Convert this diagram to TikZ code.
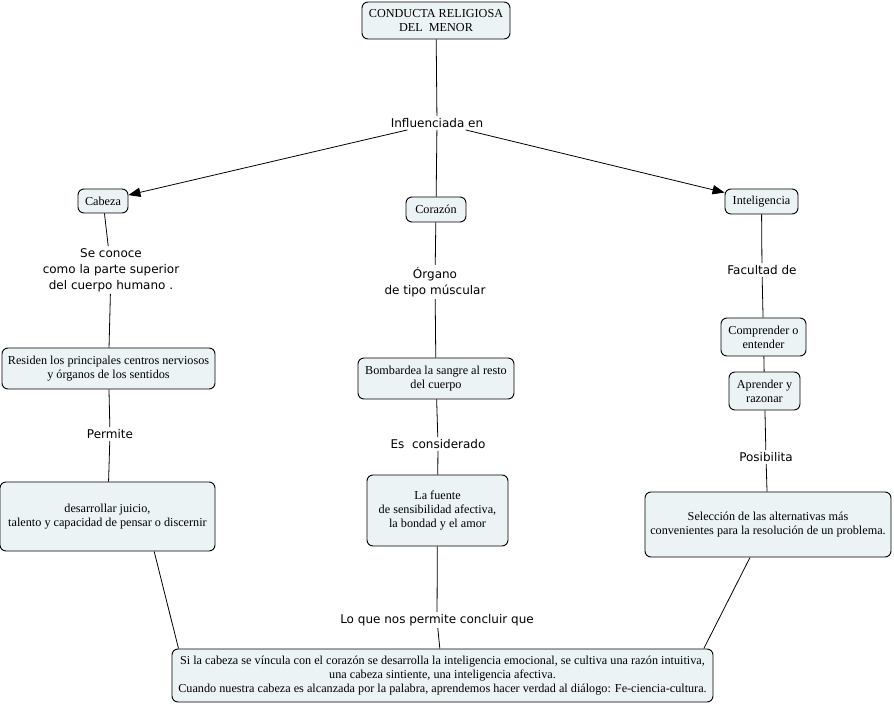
\documentclass[tikz,border=0pt]{standalone}
\usepackage{fontspec}
\setmainfont{Liberation Serif}
\newfontfamily\lblfont{DejaVu Sans}
\usetikzlibrary{arrows.meta}
\definecolor{boxfill}{RGB}{236,243,245}
\begin{document}
\begin{tikzpicture}[x=0.75pt,y=-0.75pt,
  cbox/.style={draw=black,fill=boxfill,rounded corners=4.5pt,line width=0.7pt,inner sep=0pt,align=center,
    font=\fontsize{9.15pt}{10.6pt}\selectfont},
  lbl/.style={inner sep=1.5pt,align=center,font=\lblfont\fontsize{9pt}{12pt}\selectfont},
  conn/.style={draw=black,line width=0.6pt},
  arr/.style={conn,-{Triangle[length=9pt,width=7pt]}}]
\useasboundingbox (0,0) rectangle (894,706);

\node[cbox,minimum width=111pt,minimum height=27.75pt] (root) at (436,20.5) {CONDUCTA RELIGIOSA\\DEL\ \ MENOR};
\node[lbl] (infl) at (437,123) {Influenciada en};

\node[cbox,minimum width=37.5pt,minimum height=18pt] (cab) at (103,201) {Cabeza};
\node[cbox,minimum width=45pt,minimum height=18.75pt] (cor) at (436,209.5) {Corazón};
\node[cbox,minimum width=54.75pt,minimum height=18.75pt] (intel) at (761.5,201.5) {Inteligencia};

\node[lbl] (seco) at (111,270) {Se conoce\\como la parte superior\\del cuerpo humano .};
\node[lbl] (org) at (435,282) {Órgano\\de tipo múscular};
\node[lbl] (fac) at (762,270) {Facultad de};

\node[cbox,minimum width=159.75pt,minimum height=30.75pt] (res) at (108.5,368.5) {Residen los principales centros nerviosos\\y órganos de los sentidos};
\node[cbox,minimum width=117pt,minimum height=30.75pt] (bomb) at (436,378.5) {Bombardea la sangre al resto\\del cuerpo};
\node[cbox,minimum width=63.75pt,minimum height=28.5pt] (comp) at (763.5,337) {Comprender o\\entender};
\node[cbox,minimum width=53.25pt,minimum height=28.5pt] (apr) at (764.5,391) {Aprender y\\razonar};

\node[lbl] (perm) at (110,434) {Permite};
\node[lbl] (escon) at (438,444) {Es\ \ considerado};
\node[lbl] (posib) at (766,457) {Posibilita};

\node[cbox,minimum width=161.25pt,minimum height=51.75pt] (des) at (107.5,516.5) {desarrollar juicio,\\ talento y capacidad de pensar o discernir};
\node[cbox,minimum width=105.75pt,minimum height=53.25pt] (fuente) at (437.5,510.5) {La fuente\\de sensibilidad afectiva,\\la bondad y el amor};
\node[cbox,minimum width=184.5pt,minimum height=48.75pt] (sel) at (768,524.5) {Selección de las alternativas más\\convenientes para la resolución de un problema.};

\node[lbl] (loque) at (437,620) {Lo que nos permite concluir que};
\node[cbox,minimum width=405.75pt,minimum height=39.75pt] (bot) at (442.5,675.5) {Si la cabeza se víncula con el corazón se desarrolla la inteligencia emocional, se cultiva una razón intuitiva,\\una cabeza sintiente, una inteligencia afectiva.\\Cuando nuestra cabeza es alcanzada por la palabra, aprendemos hacer verdad al diálogo: Fe-ciencia-cultura.};

\draw[conn] (root) -- (infl);
\draw[arr] (infl) -- (cab);
\draw[conn] (infl) -- (cor);
\draw[arr] (infl) -- (intel);

\draw[conn] (cab) -- (seco);
\draw[conn] (seco) -- (res);
\draw[conn] (res) -- (perm);
\draw[conn] (perm) -- (des);
\draw[conn] ([xshift=35pt]des.south) -- ([xshift=-198pt]bot.north);

\draw[conn] (cor) -- (org);
\draw[conn] (org) -- (bomb);
\draw[conn] (bomb) -- (escon);
\draw[conn] (escon) -- (fuente);
\draw[conn] (fuente) -- (loque);
\draw[conn] (loque) -- (bot);

\draw[conn] (intel) -- (fac);
\draw[conn] (fac) -- (comp);
\draw[conn] (comp) -- (apr);
\draw[conn] (apr) -- (posib);
\draw[conn] (posib) -- (sel);
\draw[conn] ([xshift=-13.5pt]sel.south) -- ([xshift=196pt]bot.north);
\end{tikzpicture}
\end{document}
